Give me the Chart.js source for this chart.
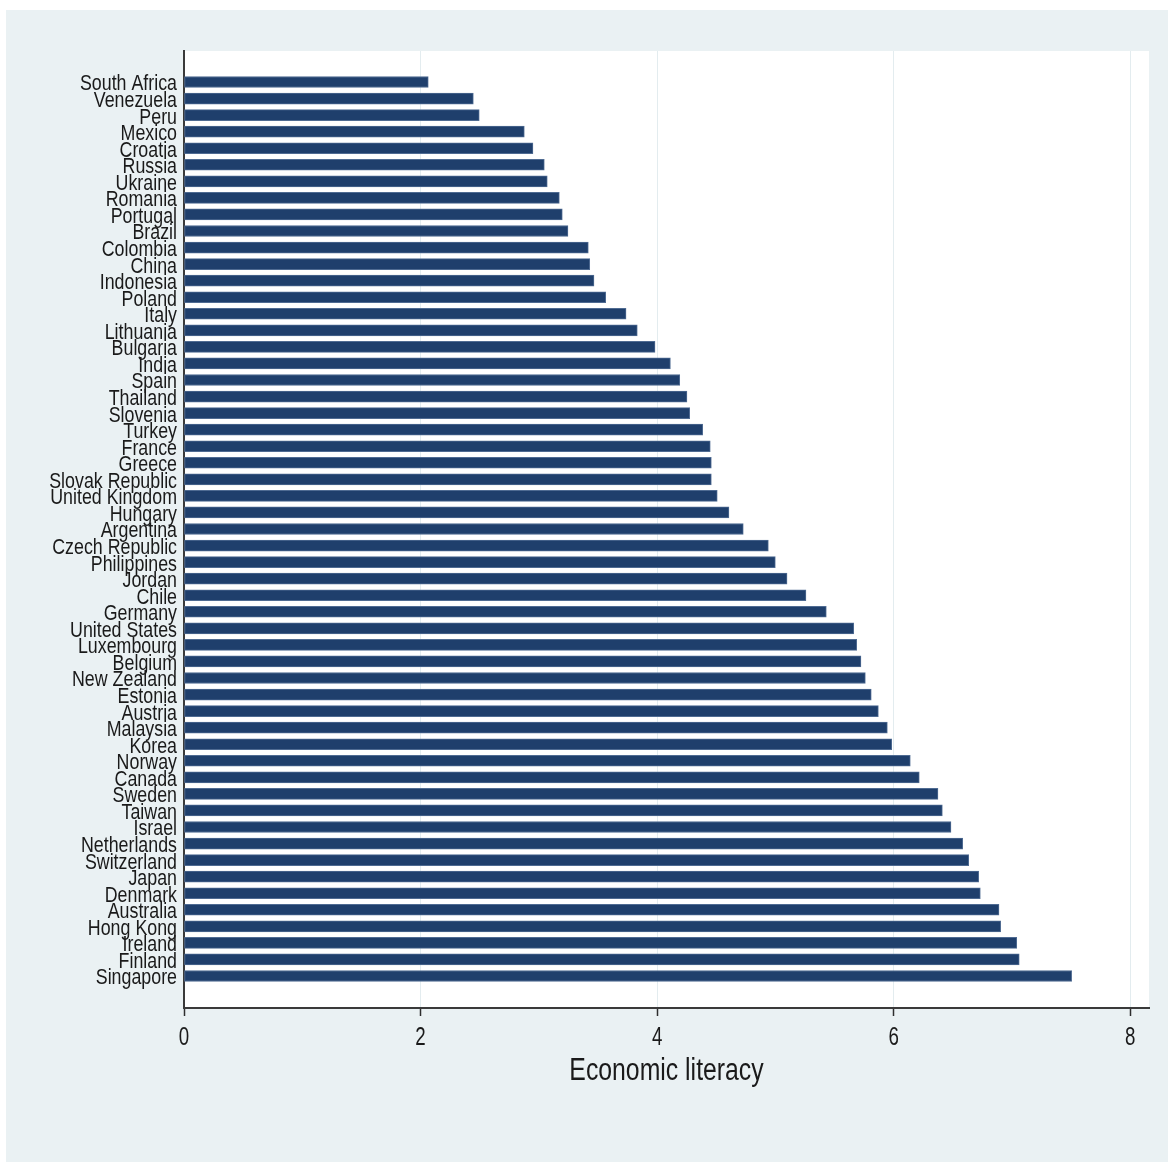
<!DOCTYPE html>
<html>
<head>
<meta charset="utf-8">
<script src="https://cdn.jsdelivr.net/npm/chart.js@4/dist/chart.umd.min.js"></script>
<style>
  html, body { margin: 0; padding: 0; background: #ffffff; }
  #wrap { position: absolute; left: 0; top: 0; width: 1168px; height: 1162px; }
</style>
</head>
<body>
<div id="wrap"><canvas id="chart" width="1168" height="1162"></canvas></div>
<script>
// Countries, ordered from lowest to highest score
const countries = [
  'South Africa', 'Venezuela', 'Peru', 'Mexico', 'Croatia', 'Russia', 'Ukraine',
  'Romania', 'Portugal', 'Brazil', 'Colombia', 'China', 'Indonesia', 'Poland',
  'Italy', 'Lithuania', 'Bulgaria', 'India', 'Spain', 'Thailand', 'Slovenia',
  'Turkey', 'France', 'Greece', 'Slovak Republic', 'United Kingdom', 'Hungary',
  'Argentina', 'Czech Republic', 'Philippines', 'Jordan', 'Chile', 'Germany',
  'United States', 'Luxembourg', 'Belgium', 'New Zealand', 'Estonia', 'Austria',
  'Malaysia', 'Korea', 'Norway', 'Canada', 'Sweden', 'Taiwan', 'Israel',
  'Netherlands', 'Switzerland', 'Japan', 'Denmark', 'Australia', 'Hong Kong',
  'Ireland', 'Finland', 'Singapore'
];

// Economic literacy score per country
const literacy = [
  2.065, 2.446, 2.496, 2.877, 2.950, 3.046, 3.071,
  3.173, 3.198, 3.246, 3.418, 3.430, 3.466, 3.565,
  3.737, 3.832, 3.982, 4.112, 4.191, 4.252, 4.275,
  4.385, 4.449, 4.458, 4.458, 4.508, 4.607,
  4.728, 4.940, 4.999, 5.098, 5.258, 5.430,
  5.662, 5.687, 5.723, 5.760, 5.810, 5.870,
  5.946, 5.983, 6.140, 6.216, 6.374, 6.411, 6.484,
  6.583, 6.634, 6.718, 6.732, 6.890, 6.904,
  7.040, 7.061, 7.504
];

// Value axis tick labels
const xTicks = [0, 2, 4, 6, 8];
const axisTitle = 'Economic literacy';

const FONT = "'Liberation Sans', Arial, sans-serif";
const TEXT_COLOR = '#1a1a1a';

// Draws text squeezed horizontally, giving a condensed face
function drawCondensed(ctx, text, x, y, sx, align) {
  ctx.save();
  ctx.translate(x, y);
  ctx.scale(sx, 1);
  ctx.textAlign = align;
  ctx.textBaseline = 'alphabetic';
  ctx.fillText(text, 0, 0);
  ctx.restore();
}

// Light outer panel with a white plot region
const backdrop = {
  id: 'backdrop',
  beforeDraw(chart) {
    const { ctx, chartArea: a, width, height } = chart;
    ctx.save();
    ctx.fillStyle = '#ffffff';
    ctx.fillRect(0, 0, width, height);
    ctx.fillStyle = '#eaf1f3';
    ctx.fillRect(6, 10, width - 6, height - 10);
    ctx.fillStyle = '#ffffff';
    ctx.fillRect(a.left, a.top, a.right - a.left, a.bottom - a.top);
    ctx.restore();
  }
};

// Condensed axis labels placed from the chart's own scales
const condensedLabels = {
  id: 'condensedLabels',
  afterDraw(chart) {
    const { ctx, chartArea: a } = chart;
    const xs = chart.scales.x;
    const ys = chart.scales.y;
    ctx.save();
    ctx.fillStyle = TEXT_COLOR;

    ctx.font = `22px ${FONT}`;
    ys.ticks.forEach((t) => {
      const py = ys.getPixelForValue(t.value);
      drawCondensed(ctx, countries[t.value], a.left - 7, py + 8.5, 0.81, 'right');
    });

    ctx.font = `26px ${FONT}`;
    xs.ticks.forEach((t) => {
      const px = xs.getPixelForValue(t.value);
      drawCondensed(ctx, String(t.value), px, a.bottom + 37, 0.72, 'center');
    });

    ctx.font = `31px ${FONT}`;
    drawCondensed(ctx, axisTitle, (a.left + a.right) / 2, a.bottom + 72, 0.8, 'center');
    ctx.restore();
  }
};

new Chart(document.getElementById('chart'), {
  type: 'bar',
  data: {
    datasets: [{
      data: literacy.map((v, i) => ({ x: v, y: i })),
      backgroundColor: '#1f3f6c',
      borderColor: '#4f6b92',
      borderWidth: 1,
      borderSkipped: false,
      barThickness: 11
    }]
  },
  options: {
    indexAxis: 'y',
    responsive: false,
    animation: false,
    devicePixelRatio: 1,
    layout: { padding: { top: 51, right: 19, left: 0, bottom: 0 } },
    plugins: { legend: { display: false }, tooltip: { enabled: false } },
    scales: {
      x: {
        type: 'linear',
        position: 'bottom',
        offset: false,
        min: 0,
        max: 8.158,
        afterBuildTicks(scale) { scale.ticks = xTicks.map(v => ({ value: v })); },
        afterFit(scale) { scale.height = 154; },
        grid: {
          color: '#e3ecef',
          lineWidth: 1,
          drawTicks: true,
          tickLength: 8,
          tickColor: '#2e2e2e',
          tickWidth: 1.5
        },
        border: { display: true, color: '#3a3a3a', width: 2 },
        ticks: { display: false },
        title: { display: false, text: axisTitle }
      },
      y: {
        type: 'linear',
        reverse: true,
        offset: false,
        min: -1.872,
        max: 55.933,
        afterBuildTicks(scale) { scale.ticks = countries.map((_, i) => ({ value: i })); },
        afterFit(scale) { scale.width = 184; },
        grid: { display: false, drawTicks: false, offset: false },
        border: { display: true, color: '#3a3a3a', width: 2 },
        ticks: { display: false, autoSkip: false }
      }
    }
  },
  plugins: [backdrop, condensedLabels]
});
</script>
</body>
</html>
